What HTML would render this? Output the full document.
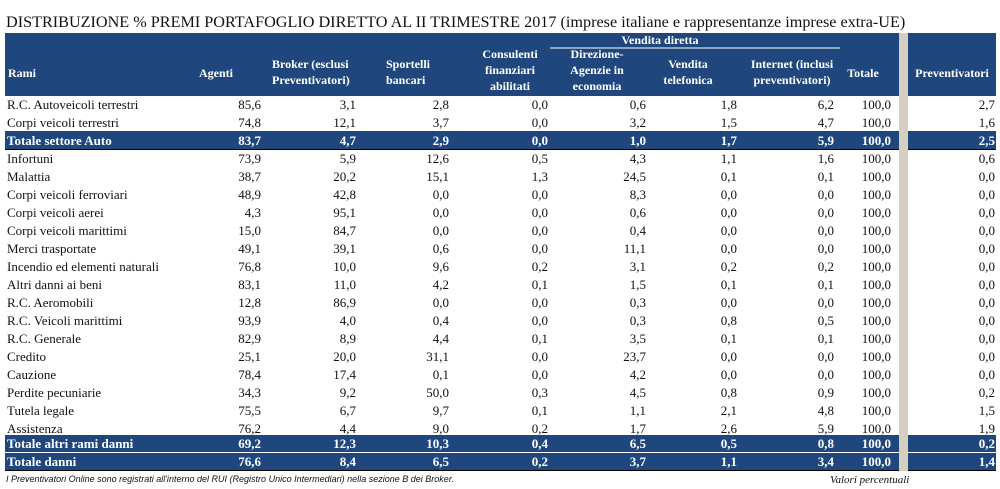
<!DOCTYPE html>
<html><head><meta charset="utf-8"><style>
body{margin:0;background:#fff;width:1000px;height:489px;overflow:hidden}
svg{display:block}
text{font-family:"Liberation Serif",serif;font-size:13px;fill:#111}
.h{fill:#fff;font-weight:bold;font-size:12px}
.n{text-anchor:end}
.w{fill:#fff;font-weight:bold}
.c{text-anchor:middle}
</style></head><body>
<svg width="1000" height="489" viewBox="0 0 1000 489">
<text x="6" y="27" style="font-size:16.2px">DISTRIBUZIONE % PREMI PORTAFOGLIO DIRETTO AL II TRIMESTRE 2017 (imprese italiane e rappresentanze imprese extra-UE)</text>
<rect x="5" y="33" width="894" height="63" fill="#1f477d"/>
<rect x="899" y="33" width="9" height="438" fill="#d4cfc1"/>
<rect x="908" y="33" width="88" height="63" fill="#1f477d"/>
<line x1="550" y1="48" x2="840" y2="48" stroke="#fff" stroke-width="1"/>
<text class="h c" x="660" y="44">Vendita diretta</text>
<text class="h" x="8" y="77">Rami</text>
<text class="h" x="199" y="77">Agenti</text>
<text class="h" x="272" y="68">Broker (esclusi</text>
<text class="h" x="272" y="84">Preventivatori)</text>
<text class="h" x="386" y="68">Sportelli</text>
<text class="h" x="386" y="84">bancari</text>
<text class="h c" x="510" y="58">Consulenti</text>
<text class="h c" x="510" y="74">finanziari</text>
<text class="h c" x="510" y="90">abilitati</text>
<text class="h c" x="597" y="58">Direzione-</text>
<text class="h c" x="597" y="74">Agenzie in</text>
<text class="h c" x="597" y="90">economia</text>
<text class="h c" x="688" y="68">Vendita</text>
<text class="h c" x="688" y="84">telefonica</text>
<text class="h c" x="792" y="68">Internet (inclusi</text>
<text class="h c" x="792" y="84">preventivatori)</text>
<text class="h c" x="863" y="77">Totale</text>
<text class="h c" x="952" y="77">Preventivatori</text>
<rect x="5" y="131" width="894" height="18" fill="#1f477d"/>
<rect x="908" y="131" width="88" height="18" fill="#1f477d"/>
<line x1="5" y1="149.5" x2="899" y2="149.5" stroke="#000"/>
<line x1="908" y1="149.5" x2="996" y2="149.5" stroke="#000"/>
<rect x="5" y="435" width="894" height="17" fill="#1f477d"/>
<rect x="908" y="435" width="88" height="17" fill="#1f477d"/>
<rect x="5" y="453" width="894" height="17" fill="#1f477d"/>
<rect x="908" y="453" width="88" height="17" fill="#1f477d"/>
<line x1="5" y1="470.5" x2="899" y2="470.5" stroke="#000"/>
<line x1="908" y1="470.5" x2="996" y2="470.5" stroke="#000"/>
<g id="rows"></g>
<text x="6" y="482" textLength="448" lengthAdjust="spacingAndGlyphs" style="font-family:'Liberation Sans',sans-serif;font-size:9px;font-style:italic">I Preventivatori Online sono registrati all'interno del RUI (Registro Unico Intermediari) nella sezione B dei Broker.</text>
<text x="830" y="483" style="font-size:11px;font-style:italic">Valori percentuali</text>
</svg>
<script>
var d=[
["R.C. Autoveicoli terrestri","85,6","3,1","2,8","0,0","0,6","1,8","6,2","100,0","2,7"],
["Corpi veicoli terrestri","74,8","12,1","3,7","0,0","3,2","1,5","4,7","100,0","1,6"],
["Totale settore Auto","83,7","4,7","2,9","0,0","1,0","1,7","5,9","100,0","2,5",1],
["Infortuni","73,9","5,9","12,6","0,5","4,3","1,1","1,6","100,0","0,6"],
["Malattia","38,7","20,2","15,1","1,3","24,5","0,1","0,1","100,0","0,0"],
["Corpi veicoli ferroviari","48,9","42,8","0,0","0,0","8,3","0,0","0,0","100,0","0,0"],
["Corpi veicoli aerei","4,3","95,1","0,0","0,0","0,6","0,0","0,0","100,0","0,0"],
["Corpi veicoli marittimi","15,0","84,7","0,0","0,0","0,4","0,0","0,0","100,0","0,0"],
["Merci trasportate","49,1","39,1","0,6","0,0","11,1","0,0","0,0","100,0","0,0"],
["Incendio ed elementi naturali","76,8","10,0","9,6","0,2","3,1","0,2","0,2","100,0","0,0"],
["Altri danni ai beni","83,1","11,0","4,2","0,1","1,5","0,1","0,1","100,0","0,0"],
["R.C. Aeromobili","12,8","86,9","0,0","0,0","0,3","0,0","0,0","100,0","0,0"],
["R.C. Veicoli marittimi","93,9","4,0","0,4","0,0","0,3","0,8","0,5","100,0","0,0"],
["R.C. Generale","82,9","8,9","4,4","0,1","3,5","0,1","0,1","100,0","0,0"],
["Credito","25,1","20,0","31,1","0,0","23,7","0,0","0,0","100,0","0,0"],
["Cauzione","78,4","17,4","0,1","0,0","4,2","0,0","0,0","100,0","0,0"],
["Perdite pecuniarie","34,3","9,2","50,0","0,3","4,5","0,8","0,9","100,0","0,2"],
["Tutela legale","75,5","6,7","9,7","0,1","1,1","2,1","4,8","100,0","1,5"],
["Assistenza","76,2","4,4","9,0","0,2","1,7","2,6","5,9","100,0","1,9"],
["Totale altri rami danni","69,2","12,3","10,3","0,4","6,5","0,5","0,8","100,0","0,2",1,448],
["Totale danni","76,6","8,4","6,5","0,2","3,7","1,1","3,4","100,0","1,4",1,466]];
var xs=[261,356,449,548,646,737,834,891,995],g=document.getElementById("rows"),s="";
d.forEach(function(r,i){var y=r[11]||(109+18*i);var c=r[10]?' w':'';
s+='<text class="'+c+'" x="7" y="'+y+'">'+r[0]+'</text>';
for(var k=0;k<9;k++)s+='<text class="n'+c+'" x="'+xs[k]+'" y="'+y+'">'+r[k+1]+'</text>';});
g.innerHTML=s;
</script>
</body></html>
